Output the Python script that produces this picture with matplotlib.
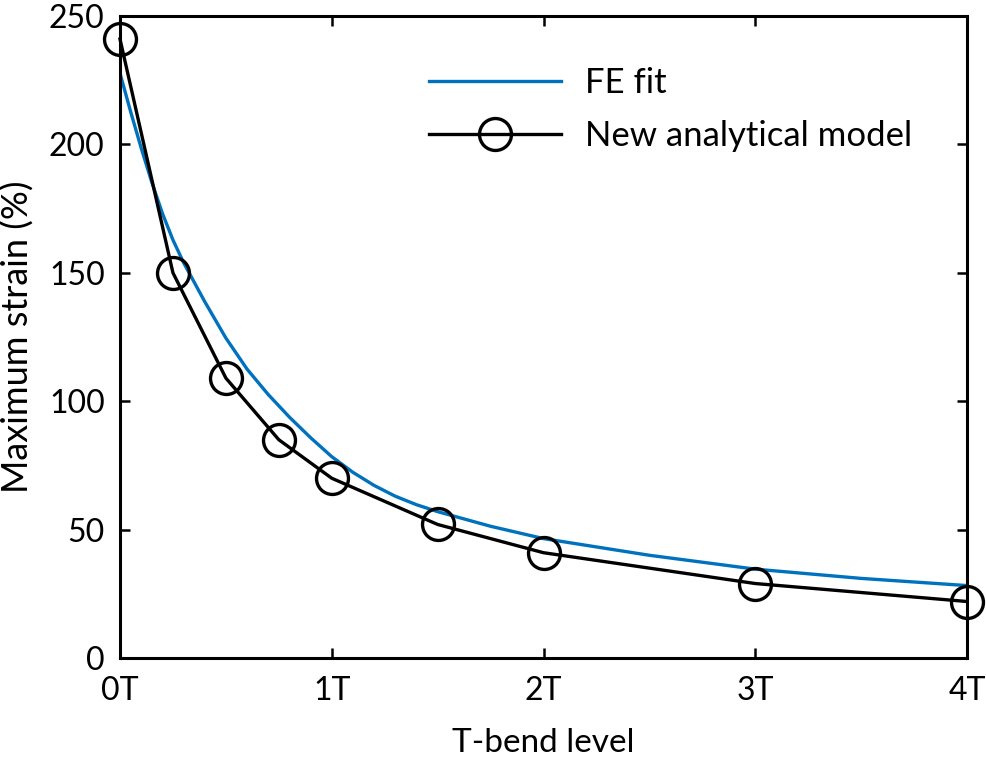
import matplotlib
matplotlib.use("Agg")
import matplotlib.pyplot as plt

plt.rcParams['font.family'] = ['Lato', 'DejaVu Sans']

# Nível de T-bend e deformação máxima (%) - modelo analítico
t_nivel = [0, 0.25, 0.5, 0.75, 1.0, 1.5, 2.0, 3.0, 4.0]
deform_modelo = [241, 150, 109, 85, 70, 52, 41, 29, 22]

# Curva de ajuste do MEF
t_fit = [0, 0.05, 0.1, 0.15, 0.2, 0.25, 0.3, 0.4, 0.5, 0.6, 0.7, 0.8, 0.9,
         1.0, 1.1, 1.2, 1.3, 1.4, 1.5, 1.75, 2.0, 2.5, 3.0, 3.5, 4.0]
deform_fit = [227.7, 212.8, 198.6, 185.3, 173.2, 162.8, 154.0, 138.8, 124.6,
              112.5, 102.6, 93.8, 85.8, 78.4, 72.3, 67.2, 63.0, 59.7, 57.0,
              51.3, 46.5, 40.0, 34.6, 31.0, 28.2]

xticks = [0, 1, 2, 3, 4]
xtick_labels = ["0T", "1T", "2T", "3T", "4T"]
yticks = [0, 50, 100, 150, 200, 250]

fig = plt.figure(figsize=(9.86, 7.58), dpi=100)
ax = fig.add_axes([120/986, 1 - 658/758, 847/986, 642/758])

ax.plot(t_fit, deform_fit, color="#0072BD", lw=2.4, label="FE fit")
ax.plot(t_nivel, deform_modelo, color="black", lw=2.4, marker="o", ms=23,
        mfc="none", mew=2.4, label="New analytical model", clip_on=False)

ax.set_xlim(0, 4)
ax.set_ylim(0, 250)
ax.set_xticks(xticks)
ax.set_xticklabels(xtick_labels)
ax.set_yticks(yticks)

for s in ax.spines.values():
    s.set_linewidth(2.2)
ax.tick_params(direction="in", length=7, width=1.8, top=True, right=True,
               labelsize=23)
ax.tick_params(axis="x", pad=13)
ax.tick_params(axis="y", pad=11)

ax.set_xlabel("T-bend level", fontsize=24, labelpad=16)
ax.set_ylabel("Maximum strain (%)", fontsize=26, labelpad=10)

leg = ax.legend(loc="upper left", bbox_to_anchor=(0.365, 0.92), frameon=False,
                fontsize=25, handlelength=3.8, handletextpad=0.7,
                labelspacing=0.6, borderpad=0, borderaxespad=0)

fig.savefig("out.png", dpi=100)
